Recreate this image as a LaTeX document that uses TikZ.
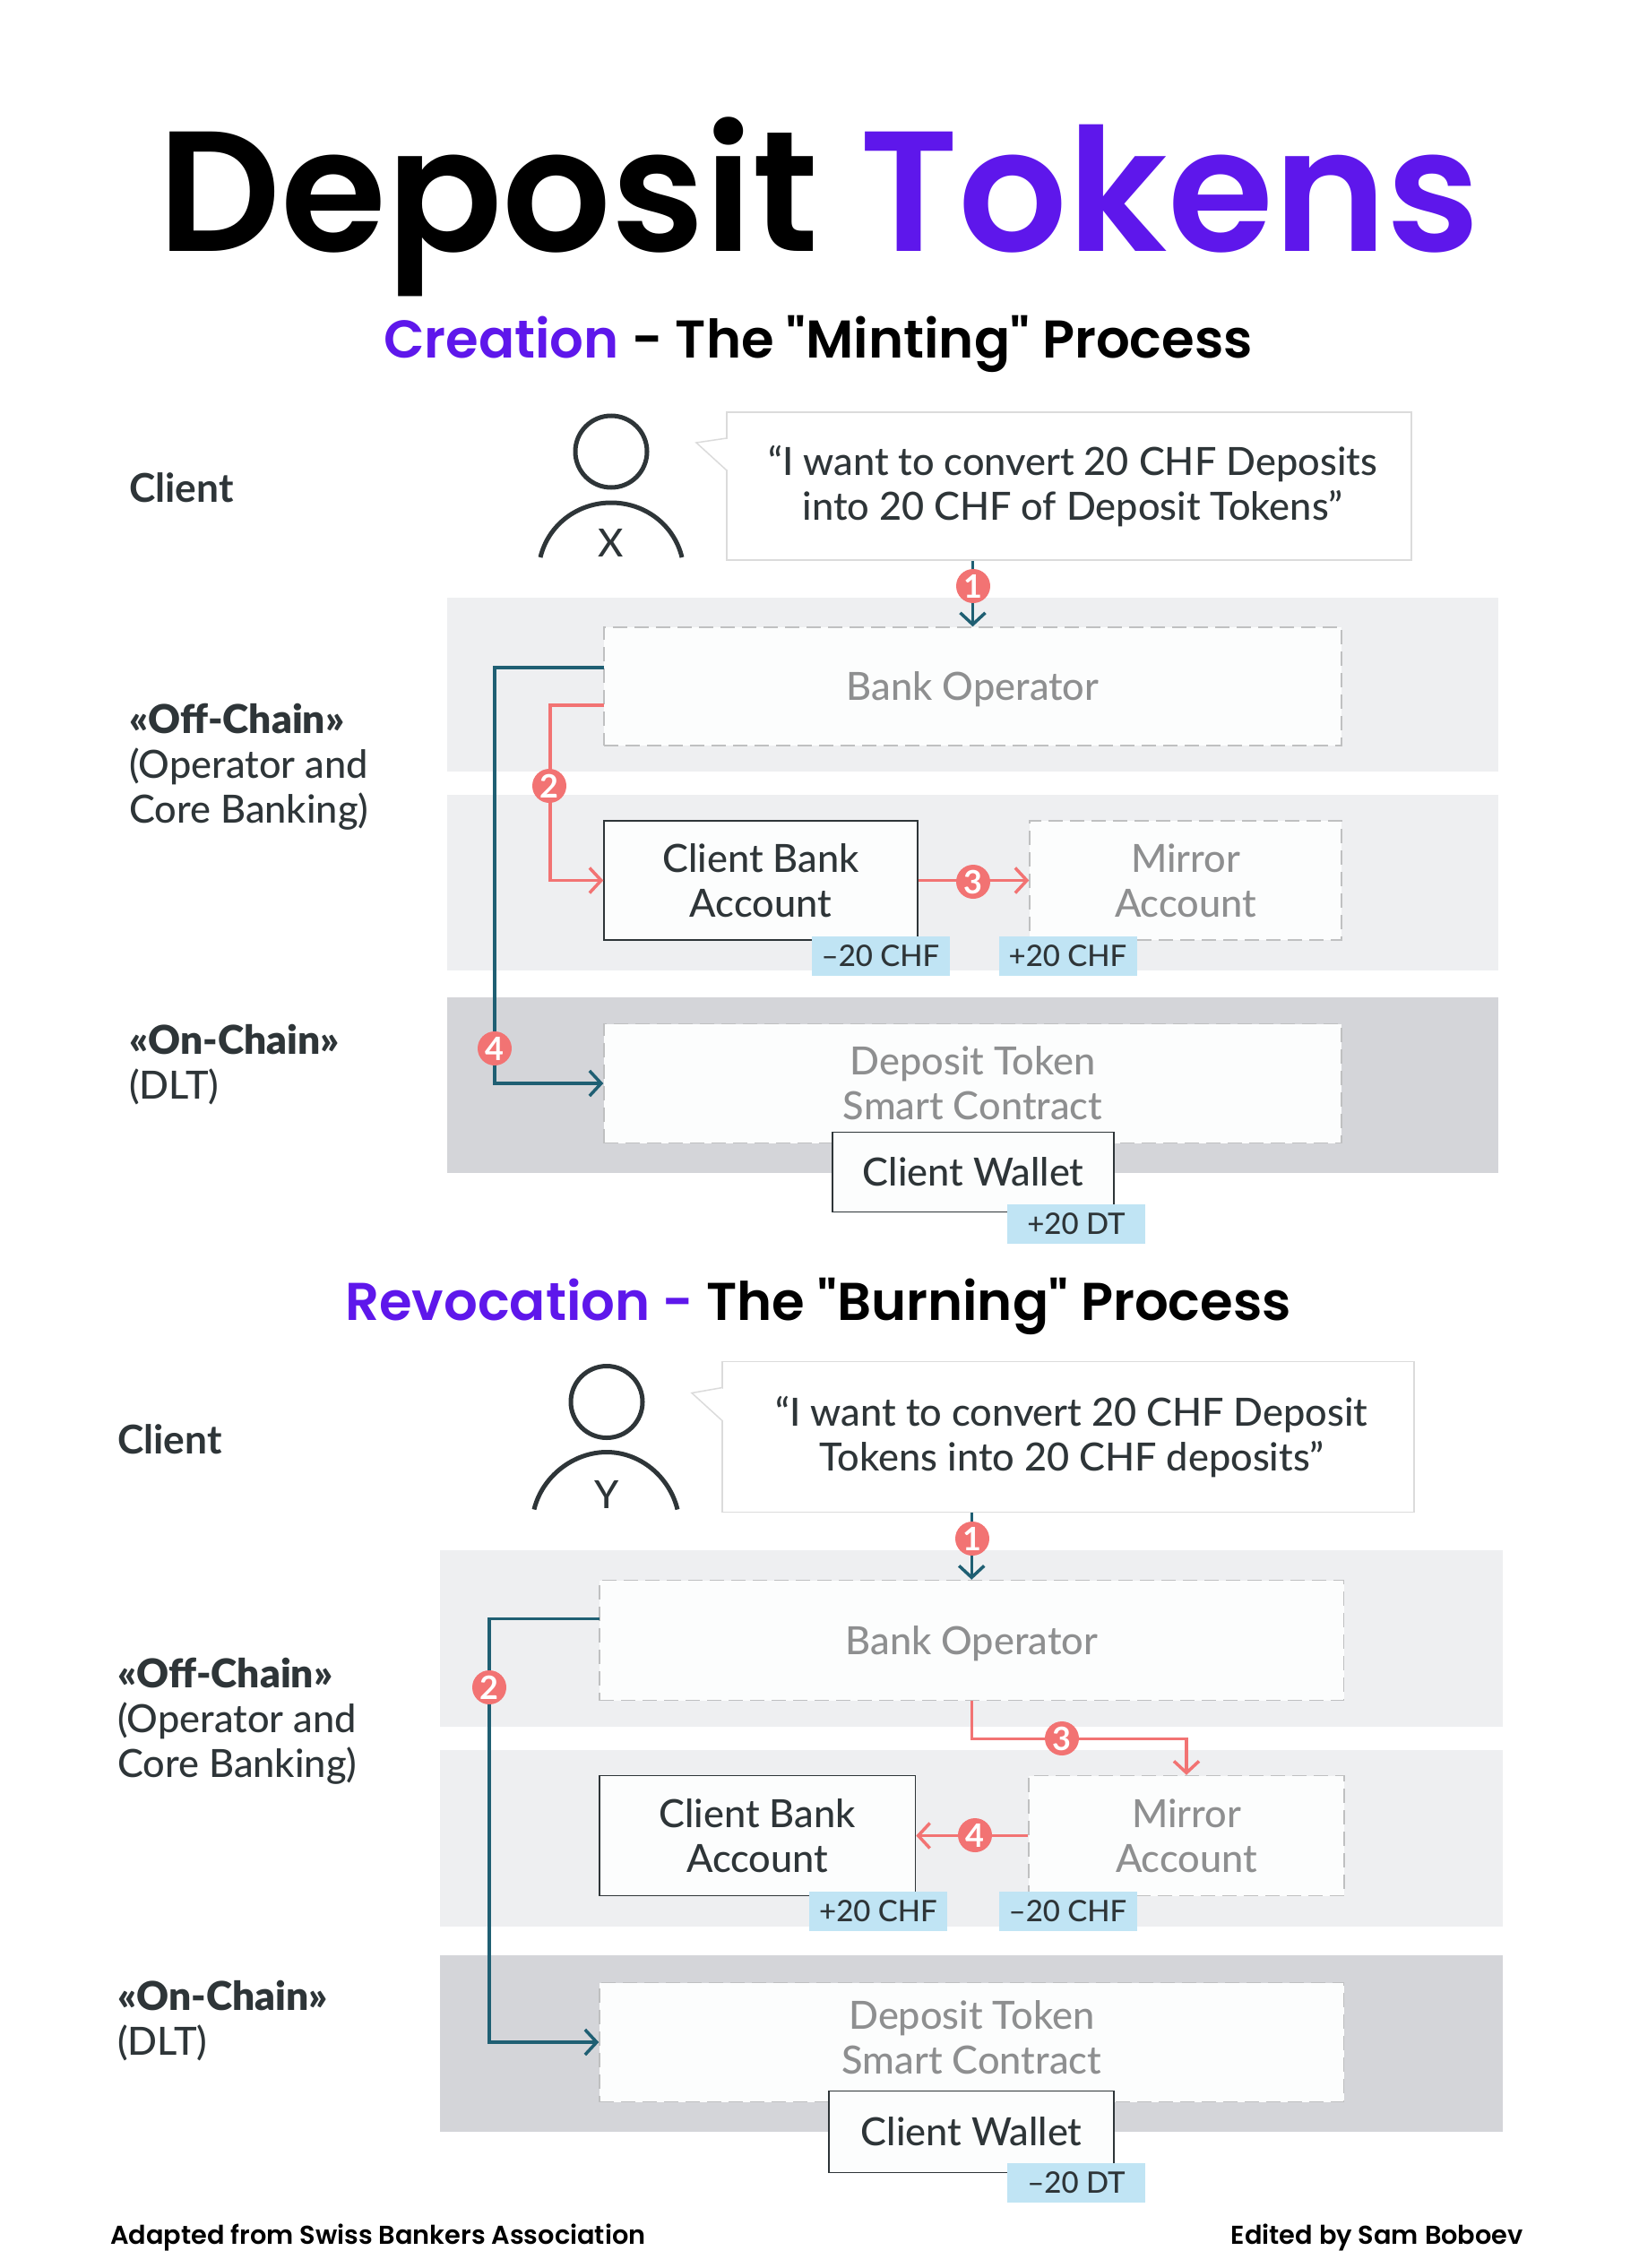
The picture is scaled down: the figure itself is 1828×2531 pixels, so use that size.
\documentclass[tikz,border=0pt]{standalone}
\usepackage{fontspec}
\usetikzlibrary{arrows.meta}
\setmainfont{Lato}
\newfontfamily\titlefont{Poppins SemiBold}
\newfontfamily\labelfont{Lato Medium}
\definecolor{inkdark}{HTML}{2E3538}
\definecolor{inkgrey}{HTML}{8E8F90}
\definecolor{purple}{HTML}{5E17EB}
\definecolor{teal}{HTML}{1F5F73}
\definecolor{salmon}{HTML}{F27373}
\definecolor{bandlight}{HTML}{EEEFF1}
\definecolor{banddark}{HTML}{D4D5D9}
\definecolor{boxfill}{HTML}{FCFDFD}
\definecolor{dashgrey}{HTML}{BFC0C1}
\definecolor{tagblue}{HTML}{C0E4F4}
\tikzset{
    band/.style={inner sep=0, outer sep=0, fill=bandlight},
    solidbox/.style={draw=inkdark, line width=1.5pt, fill=boxfill, align=center, text=inkdark, inner sep=0,
        font=\labelfont\fontsize{43.3}{50}\selectfont},
    ghostbox/.style={draw=dashgrey, line width=1.5pt, dash pattern=on 16pt off 8pt, fill=boxfill, align=center, text=inkgrey, inner sep=0,
        font=\labelfont\fontsize{43.3}{50}\selectfont},
    bubble/.style={draw=black!14, line width=1.5pt, fill=white, align=center, text=inkdark, inner sep=0,
        font=\labelfont\fontsize{43.3}{50}\selectfont},
    tag/.style={fill=tagblue, text=inkdark, inner sep=0, minimum height=44pt, minimum width=154pt,
        font=\labelfont\fontsize{33}{40}\selectfont},
    badge/.style={circle, fill=salmon, text=white, inner sep=0, minimum size=38pt,
        font=\bfseries\fontsize{36}{36}\selectfont},
    rowhead/.style={anchor=west, align=left, text=inkdark, inner sep=0,
        font=\labelfont\fontsize{43.3}{50}\selectfont},
    rowtitle/.style={font=\bfseries\fontsize{44.3}{50}\selectfont},
    tealline/.style={draw=teal, line width=3.5pt},
    redline/.style={draw=salmon, line width=3.5pt},
    opentip/.style={-{Straight Barb[length=13pt, width=28pt, line width=3.5pt]}},
    person/.style={draw=inkdark, line width=5pt},
}
\begin{document}
\begin{tikzpicture}[x=1pt, y=-1pt]
\useasboundingbox (0,0) rectangle (1828,2531);

% Headings
\node (title) [
    inner sep=0,
    font=\titlefont\fontsize{191}{191}\selectfont
] at (914,231) {Deposit \textcolor{purple}{Tokens}};
\node (mintinghead) [
    inner sep=0,
    font=\titlefont\fontsize{59.3}{60}\selectfont
] at (913,384) {\textcolor{purple}{Creation} - The "Minting" Process};

%-------------------------------------
% Minting
%-------------------------------------
\node (bandop1) [band, minimum width=1173pt, minimum height=194pt] at (1085.5,764) {};
\node (bandacc1) [band, minimum width=1173pt, minimum height=196pt] at (1085.5,985) {};
\node (bandchain1) [band, fill=banddark, minimum width=1173pt, minimum height=196pt] at (1085.5,1211) {};

\node (client1) [rowhead, rowtitle] at (144,544) {Client};
\node (off1) [rowhead] at (144,856) {{\bfseries\fontsize{44.3}{50}\selectfont «Off-Chain»}\\(Operator and\\Core Banking)};
\node (on1) [rowhead] at (144,1188) {{\bfseries\fontsize{44.3}{50}\selectfont «On-Chain»}\\(DLT)};

% Client X
\node (head1) [circle, person, inner sep=0, minimum size=80pt] at (682,504) {};
\draw [person] (603,622) .. controls (612,585) and (645,561) .. (682,561)
    .. controls (719,561) and (752,585) .. (761,622);
\node (letter1) [text=inkdark, inner sep=0, font=\labelfont\fontsize{43.3}{50}\selectfont] at (682,606) {X};

\node (bubble1) [bubble, minimum width=764pt, minimum height=165pt] at (1193,542.5)
    {\hspace*{8pt}“I want to convert 20 CHF Deposits\\\hspace*{8pt}into 20 CHF of Deposit Tokens”};
\fill [white] (811,489) -- (777,494) -- (811,525) -- cycle;
\draw [white, line width=2pt] (811,490) -- (811,524);
\draw [draw=black!14, line width=1.5pt] (811,489) -- (777,494) -- (811,525);

\node (op1) [ghostbox, text depth=0pt, minimum width=823pt, minimum height=132pt] at (1085.5,766) {Bank Operator};
\node (bank1) [solidbox, minimum width=350pt, minimum height=133pt] at (849,982.5) {Client Bank\\Account};
\node (mirror1) [ghostbox, minimum width=348pt, minimum height=133pt] at (1323,982.5) {Mirror\\Account};
\node (dt1) [ghostbox, minimum width=823pt, minimum height=133pt] at (1085.5,1209) {Deposit Token\\Smart Contract};
\node (wallet1) [solidbox, minimum width=314pt, minimum height=89pt] at (1086,1308) {Client Wallet};

\node (tagbank1) [tag] at (982.5,1067) {–20 CHF};
\node (tagmirror1) [tag] at (1191.5,1067) {+20 CHF};
\node (tagwallet1) [tag] at (1201,1366) {+20 DT};

\coordinate (tealout1) at (674,745);
\coordinate (redout1) at (674,787);
\draw [tealline, opentip] (op1.north |- bubble1.south) -- (op1.north);
\draw [tealline, opentip] (tealout1) -- ++(-122,0) |- (dt1.west);
\draw [redline, opentip] (redout1) -- ++(-60,0) |- (bank1.west);
\draw [redline, opentip] (bank1.east) -- (mirror1.west);

\node (one1) [badge] at (1086,654) {1};
\node (two1) [badge] at (613,877) {2};
\node (three1) [badge] at (1086,984) {3};
\node (four1) [badge] at (552,1170) {4};

%-------------------------------------
% Burning
%-------------------------------------
\node (burninghead) [
    inner sep=0,
    font=\titlefont\fontsize{59.3}{60}\selectfont
] at (913,1458) {\textcolor{purple}{Revocation -} The "Burning" Process};

\node (bandop2) [band, minimum width=1186pt, minimum height=197pt] at (1084,1828) {};
\node (bandacc2) [band, minimum width=1186pt, minimum height=197pt] at (1084,2051) {};
\node (bandchain2) [band, fill=banddark, minimum width=1186pt, minimum height=197pt] at (1084,2280) {};

\node (client2) [rowhead, rowtitle] at (131,1606.5) {Client};
\node (off2) [rowhead] at (131,1921) {{\bfseries\fontsize{44.3}{50}\selectfont «Off-Chain»}\\(Operator and\\Core Banking)};
\node (on2) [rowhead] at (131,2255.5) {{\bfseries\fontsize{44.3}{50}\selectfont «On-Chain»}\\(DLT)};

% Client Y
\node (head2) [circle, person, inner sep=0, minimum size=80pt] at (677,1564.5) {};
\draw [person] (596,1684.5) .. controls (605,1647.5) and (640,1620.5) .. (677,1620.5)
    .. controls (714,1620.5) and (747,1647.5) .. (756,1684.5);
\node (letter2) [text=inkdark, inner sep=0, font=\labelfont\fontsize{43.3}{50}\selectfont] at (677,1667.5) {Y};

\node (bubble2) [bubble, minimum width=772pt, minimum height=168pt] at (1192,1603.5)
    {\hspace*{8pt}“I want to convert 20 CHF Deposit\\\hspace*{8pt}Tokens into 20 CHF deposits”};
\fill [white] (806,1548.5) -- (772,1554.5) -- (806,1585.5) -- cycle;
\draw [white, line width=2pt] (806,1549.5) -- (806,1584.5);
\draw [draw=black!14, line width=1.5pt] (806,1548.5) -- (772,1554.5) -- (806,1585.5);

\node (op2) [ghostbox, text depth=0pt, minimum width=830.5pt, minimum height=134pt] at (1084.25,1830.5) {Bank Operator};
\node (bank2) [solidbox, minimum width=352.5pt, minimum height=134pt] at (845.25,2048.5) {Client Bank\\Account};
\node (mirror2) [ghostbox, minimum width=352pt, minimum height=134pt] at (1324,2048.5) {Mirror\\Account};
\node (dt2) [ghostbox, text depth=12pt, minimum width=830.5pt, minimum height=133pt] at (1084.25,2279) {Deposit Token\\Smart Contract};
\node (wallet2) [solidbox, minimum width=318pt, minimum height=91pt] at (1084,2379) {Client Wallet};

\node (tagbank2) [tag] at (980,2133) {+20 CHF};
\node (tagmirror2) [tag] at (1191.5,2133) {–20 CHF};
\node (tagwallet2) [tag] at (1201,2435.5) {–20 DT};

\coordinate (tealout2) at (669,1806.5);
\draw [tealline, opentip] (op2.north |- bubble2.south) -- (op2.north);
\draw [tealline, opentip] (tealout2) -- ++(-123,0) |- (dt2.west);
\draw [redline, opentip] (op2.south) -- ++(0,42) -| (mirror2.north);
\draw [redline, opentip] (mirror2.west) -- (bank2.east);

\node (one2) [badge] at (1085,1717) {1};
\node (two2) [badge] at (546,1883) {2};
\node (three2) [badge] at (1185,1940) {3};
\node (four2) [badge] at (1088,2048) {4};

% Footer
\node (source) [
    anchor=west,
    inner sep=0,
    font=\titlefont\fontsize{28.8}{30}\selectfont
] at (123,2497) {Adapted from Swiss Bankers Association};
\node (editor) [
    anchor=east,
    inner sep=0,
    font=\titlefont\fontsize{28.8}{30}\selectfont
] at (1700,2497) {Edited by Sam Boboev};

\end{tikzpicture}
\end{document}
